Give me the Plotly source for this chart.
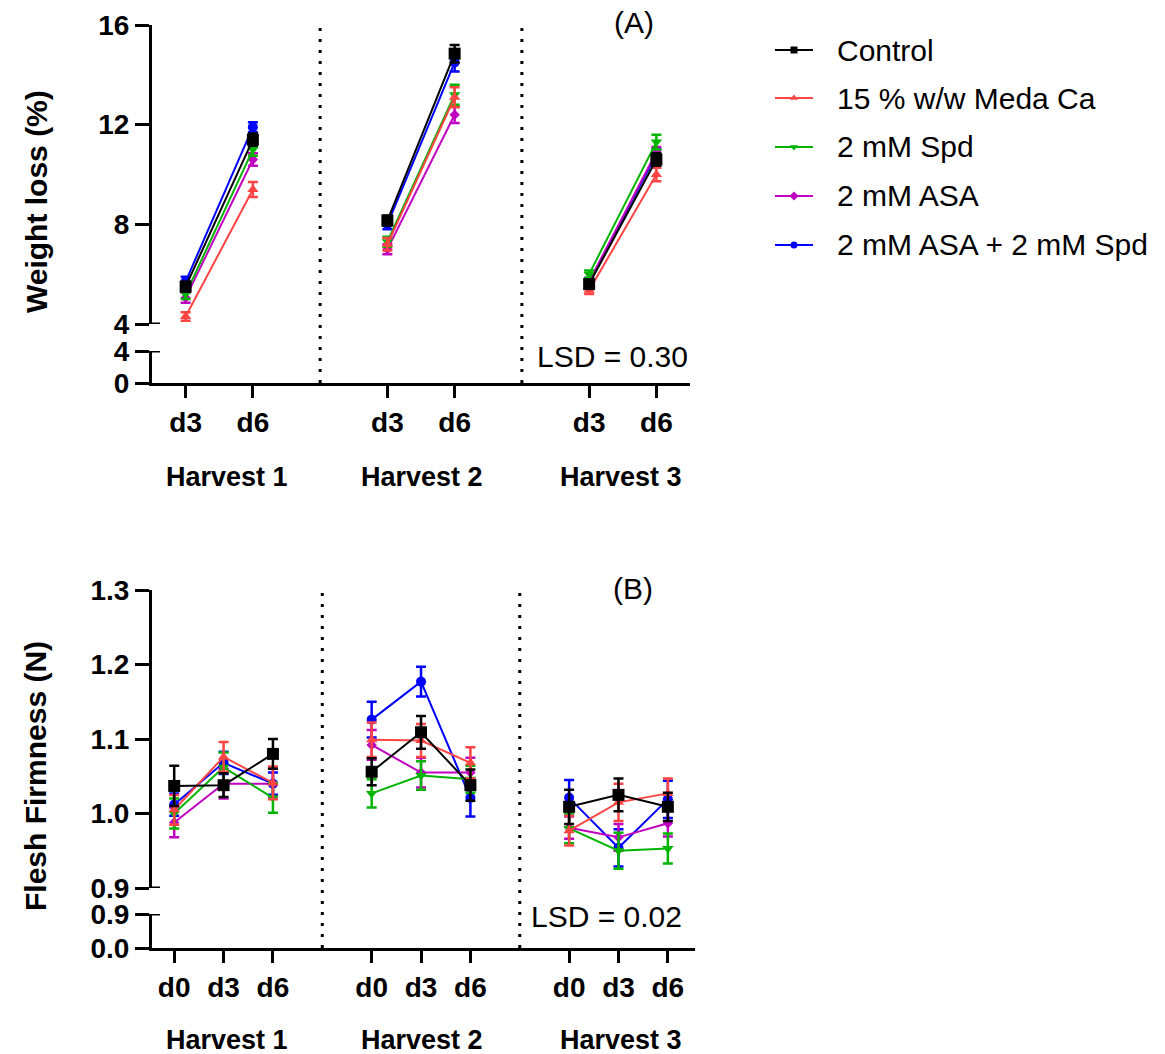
import plotly.graph_objects as go

# ---------------- data ----------------
harvests = ["Harvest 1", "Harvest 2", "Harvest 3"]
days_a = ["d3", "d6"]
days_b = ["d0", "d3", "d6"]

treatments = ["Control", "15 % w/w Meda Ca", "2 mM Spd", "2 mM ASA", "2 mM ASA + 2 mM Spd"]

# Weight loss (%) — order: H1 d3, H1 d6, H2 d3, H2 d6, H3 d3, H3 d6
wl_control = [5.50, 11.40, 8.15, 14.85, 5.60, 10.60]
wl_meda = [4.30, 9.40, 7.20, 13.10, 5.35, 10.00]
wl_spd = [5.20, 11.00, 7.30, 13.20, 6.00, 11.30]
wl_asa = [5.05, 10.60, 7.00, 12.40, 5.70, 10.90]
wl_asa_spd = [5.70, 11.90, 8.00, 14.50, 5.70, 10.80]

wl_control_se = [0.20, 0.25, 0.20, 0.35, 0.15, 0.25]
wl_meda_se = [0.17, 0.30, 0.25, 0.40, 0.15, 0.27]
wl_spd_se = [0.20, 0.25, 0.20, 0.40, 0.15, 0.30]
wl_asa_se = [0.20, 0.25, 0.20, 0.33, 0.15, 0.20]
wl_asa_spd_se = [0.20, 0.20, 0.20, 0.37, 0.15, 0.20]

# Flesh firmness (N) — order: H1 d0, d3, d6, H2 d0, d3, d6, H3 d0, d3, d6
ff_control = [1.037, 1.038, 1.080, 1.056, 1.109, 1.038, 1.009, 1.025, 1.009]
ff_meda = [1.005, 1.076, 1.041, 1.099, 1.098, 1.068, 0.977, 1.015, 1.027]
ff_spd = [1.000, 1.062, 1.021, 1.027, 1.051, 1.046, 0.980, 0.950, 0.953]
ff_asa = [0.988, 1.040, 1.040, 1.092, 1.055, 1.055, 0.981, 0.968, 0.987]
ff_asa_spd = [1.012, 1.068, 1.040, 1.126, 1.177, 1.021, 1.021, 0.954, 1.019]

ff_control_se = [0.027, 0.016, 0.020, 0.018, 0.022, 0.021, 0.023, 0.022, 0.019]
ff_meda_se = [0.020, 0.020, 0.022, 0.023, 0.022, 0.021, 0.020, 0.025, 0.020]
ff_spd_se = [0.020, 0.020, 0.020, 0.019, 0.019, 0.018, 0.020, 0.024, 0.020]
ff_asa_se = [0.020, 0.020, 0.020, 0.020, 0.020, 0.020, 0.015, 0.018, 0.018]
ff_asa_spd_se = [0.015, 0.015, 0.015, 0.024, 0.020, 0.025, 0.024, 0.025, 0.025]

lsd_a = "LSD = 0.30"
lsd_b = "LSD = 0.02"

# ---------------- styling ----------------
W, H = 1165, 1054
FONT = "Liberation Sans, Arial, sans-serif"

colors = ["#000000", "#FF4444", "#00B400", "#C000C0", "#0000FF"]
symbols = ["square", "triangle-up", "triangle-down", "diamond", "circle"]
msizes = [12, 10, 10, 8, 10]

wl_series = [wl_control, wl_meda, wl_spd, wl_asa, wl_asa_spd]
wl_errors = [wl_control_se, wl_meda_se, wl_spd_se, wl_asa_se, wl_asa_spd_se]
ff_series = [ff_control, ff_meda, ff_spd, ff_asa, ff_asa_spd]
ff_errors = [ff_control_se, ff_meda_se, ff_spd_se, ff_asa_se, ff_asa_spd_se]


def fx(px):
    return px / W


def fy(py):
    return 1 - py / H


fig = go.Figure()


def add_panel(series, errors, days, xref, yref):
    nd = len(days)
    # first treatment drawn last so it sits on top
    for i in reversed(range(len(treatments))):
        for h in range(len(harvests)):
            xs = [h * (nd + 1) + d + 1 for d in range(nd)]
            ys = series[i][h * nd:(h + 1) * nd]
            es = errors[i][h * nd:(h + 1) * nd]
            fig.add_trace(go.Scatter(
                x=xs, y=ys, xaxis=xref, yaxis=yref,
                mode="lines+markers", name=treatments[i],
                line=dict(color=colors[i], width=2),
                marker=dict(symbol=symbols[i], size=msizes[i], color=colors[i]),
                error_y=dict(type="data", array=es, color=colors[i], thickness=2.5, width=5),
                showlegend=False, hoverinfo="skip",
            ))


add_panel(wl_series, wl_errors, days_a, "x", "y")
add_panel(ff_series, ff_errors, days_b, "x2", "y3")

# key drawn on a hidden pixel-space overlay axis pair
key_rows = [50, 98, 147, 196, 245]
for i, name in enumerate(treatments):
    ry = key_rows[i]
    fig.add_trace(go.Scatter(
        x=[775, 813], y=[ry, ry], xaxis="x3", yaxis="y5",
        mode="lines", line=dict(color=colors[i], width=2),
        showlegend=False, hoverinfo="skip",
    ))
    fig.add_trace(go.Scatter(
        x=[794], y=[ry], xaxis="x3", yaxis="y5",
        mode="markers", marker=dict(symbol=symbols[i], size=7, color=colors[i]),
        showlegend=False, hoverinfo="skip",
    ))

tick_font = dict(family=FONT, size=28, color="black", weight="bold")
axis_common = dict(
    showline=True, linecolor="black", linewidth=3,
    ticks="outside", tickcolor="black", tickwidth=3,
    showgrid=False, zeroline=False, fixedrange=True, automargin=False,
    tickfont=tick_font,
)

xa_vals = [h * 3 + d + 1 for h in range(3) for d in range(2)]
xa_text = [d for _ in harvests for d in days_a]
xb_vals = [h * 4 + d + 1 for h in range(3) for d in range(3)]
xb_text = [d for _ in harvests for d in days_b]

fig.update_layout(
    template="none",
    width=W, height=H, autosize=False,
    margin=dict(l=0, r=0, t=0, b=0, pad=0),
    paper_bgcolor="white", plot_bgcolor="rgba(0,0,0,0)",
    font=dict(family=FONT, color="black"),
    showlegend=False,
    xaxis=dict(axis_common, domain=[fx(152), fx(690)], range=[0.5, 8.5],
               anchor="y2", tickvals=xa_vals, ticktext=xa_text, ticklen=12),
    yaxis=dict(axis_common, domain=[fy(324), fy(25)], range=[4, 16],
               tickvals=[4, 8, 12, 16], anchor="x", ticklen=14),
    yaxis2=dict(axis_common, domain=[fy(383), fy(351)], range=[0, 4],
                tickvals=[0, 4], anchor="x", ticklen=14),
    xaxis2=dict(axis_common, domain=[fx(152), fx(695)], range=[0.55, 11.55],
                anchor="y4", tickvals=xb_vals, ticktext=xb_text, ticklen=12),
    yaxis3=dict(axis_common, domain=[fy(888), fy(590)], range=[0.9, 1.3],
                tickvals=[0.9, 1.0, 1.1, 1.2, 1.3], tickformat=".1f", anchor="x2", ticklen=14),
    yaxis4=dict(axis_common, domain=[fy(948), fy(914)], range=[0, 0.9],
                tickvals=[0, 0.9], tickformat=".1f", anchor="x2", ticklen=14),
    xaxis3=dict(domain=[0, 1], range=[0, W], visible=False, fixedrange=True, anchor="y5"),
    yaxis5=dict(domain=[0, 1], range=[H, 0], visible=False, fixedrange=True, anchor="x3"),
)

shapes = []
# dotted separators between harvests
for xv in (3, 6):
    shapes.append(dict(type="line", xref="x", yref="paper", x0=xv, x1=xv,
                       y0=fy(383), y1=fy(25),
                       line=dict(color="black", width=3, dash="3px,8px")))
for xv in (4, 8):
    shapes.append(dict(type="line", xref="x2", yref="paper", x0=xv, x1=xv,
                       y0=fy(948), y1=fy(590),
                       line=dict(color="black", width=3, dash="3px,8px")))
# caps at the axis breaks
for yref, yv in (("y", 4), ("y2", 4), ("y3", 0.9), ("y4", 0.9)):
    shapes.append(dict(type="line", xref="paper", yref=yref, x0=fx(151), x1=fx(160),
                       y0=yv, y1=yv, line=dict(color="black", width=3)))
fig.update_layout(shapes=shapes)

ann = []
title_font = dict(family=FONT, size=30, color="black", weight="bold")
ann.append(dict(text="Weight loss (%)", xref="paper", yref="paper", x=fx(36), y=fy(202),
                textangle=-90, showarrow=False, font=title_font, xanchor="center", yanchor="middle"))
ann.append(dict(text="Flesh Firmness (N)", xref="paper", yref="paper", x=fx(35), y=fy(776),
                textangle=-90, showarrow=False, font=title_font, xanchor="center", yanchor="middle"))
harv_font = dict(family=FONT, size=27, color="black", weight="bold")
for name, cx in zip(harvests, (227, 422, 621)):
    ann.append(dict(text=name, xref="paper", yref="paper", x=fx(cx), y=fy(477),
                    showarrow=False, font=harv_font, xanchor="center", yanchor="middle"))
    ann.append(dict(text=name, xref="paper", yref="paper", x=fx(cx), y=fy(1040),
                    showarrow=False, font=harv_font, xanchor="center", yanchor="middle"))
reg_font = dict(family=FONT, size=30, color="black")
ann.append(dict(text="(A)", xref="paper", yref="paper", x=fx(634), y=fy(22),
                showarrow=False, font=reg_font, xanchor="center", yanchor="middle"))
ann.append(dict(text="(B)", xref="paper", yref="paper", x=fx(633), y=fy(588),
                showarrow=False, font=reg_font, xanchor="center", yanchor="middle"))
ann.append(dict(text=lsd_a, xref="paper", yref="paper", x=fx(612), y=fy(356),
                showarrow=False, font=reg_font, xanchor="center", yanchor="middle"))
ann.append(dict(text=lsd_b, xref="paper", yref="paper", x=fx(606), y=fy(916),
                showarrow=False, font=reg_font, xanchor="center", yanchor="middle"))
# key labels
for i, name in enumerate(treatments):
    ann.append(dict(text=name, xref="paper", yref="paper", x=fx(835), y=fy(key_rows[i]),
                    showarrow=False, font=reg_font, xanchor="left", yanchor="middle"))
fig.update_layout(annotations=ann)

fig.write_html("out.html", config={"displayModeBar": False})
